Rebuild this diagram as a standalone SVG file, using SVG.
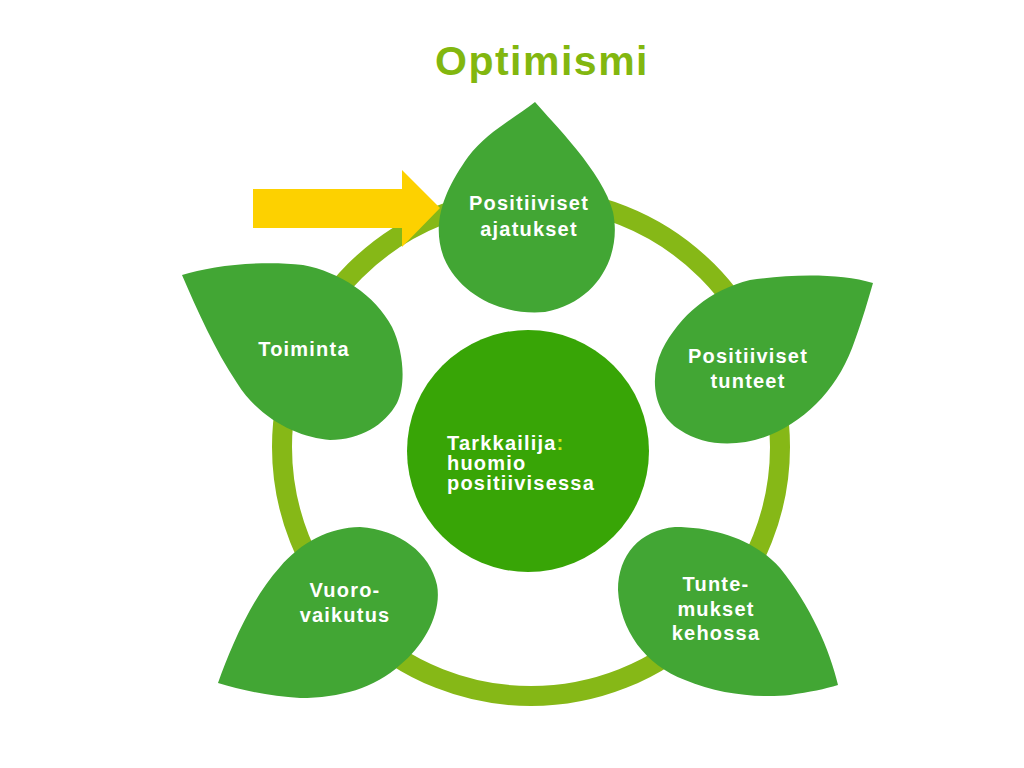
<svg xmlns="http://www.w3.org/2000/svg" width="1024" height="768" viewBox="0 0 1024 768">
<style>
.leaf{fill:#42a634}
.lbl{font-family:"Liberation Sans",Arial,sans-serif;font-weight:bold;font-size:20px;fill:#ffffff;letter-spacing:1.2px;text-anchor:middle}
.ctr{font-family:"Liberation Sans",Arial,sans-serif;font-weight:bold;font-size:20px;fill:#ffffff;letter-spacing:1.2px}
</style>
<rect width="1024" height="768" fill="#ffffff"/>
<text x="542" y="75" font-family="Liberation Sans, Arial, sans-serif" font-weight="bold" font-size="41" fill="#82b70f" text-anchor="middle" letter-spacing="1.5">Optimismi</text>
<g id="connectors">
<circle cx="531" cy="447" r="249" fill="none" stroke="#86b817" stroke-width="20"/>
</g>
<g id="center">
<circle cx="528" cy="451" r="121" fill="#38a506"/>
<text class="ctr" x="447" y="450">Tarkkailija<tspan fill="#d4e619">:</tspan></text>
<text class="ctr" x="447" y="470">huomio</text>
<text class="ctr" x="447" y="490">positiivisessa</text>
</g>
<g id="leaf-ajatukset">
<path class="leaf" d="M535,102 C552,122 603,172 613,212 C622,255 598,302 545,312 C502,316 460,295 444,258 C430,222 446,188 468,157 C487,132 515,118 535,102 Z"/>
<text class="lbl" x="529" y="210">Positiiviset</text>
<text class="lbl" x="529" y="236">ajatukset</text>
</g>
<g id="leaf-toiminta">
<path class="leaf" d="M182,275 C210,266 260,260 303,265 C340,272 375,295 392,327 C404,352 406,385 397,403 C385,425 360,440 330,440 C300,438 260,420 237,383 C215,350 197,310 182,275 Z"/>
<text class="lbl" x="304" y="356">Toiminta</text>
</g>
<g id="leaf-tunteet">
<path class="leaf" d="M873,283 C840,273 790,274 750,280 C710,290 680,315 662,350 C648,380 655,415 680,430 C705,447 740,447 770,435 C810,418 840,385 855,340 C863,318 868,300 873,283 Z"/>
<text class="lbl" x="748" y="363">Positiiviset</text>
<text class="lbl" x="748" y="388">tunteet</text>
</g>
<g id="leaf-vuorovaikutus">
<path class="leaf" d="M218,683 C230,650 250,600 280,567 C300,543 330,527 360,527 C400,530 430,553 437,585 C442,612 425,645 400,665 C375,688 340,698 300,698 C270,696 240,690 218,683 Z"/>
<text class="lbl" x="345" y="597">Vuoro-</text>
<text class="lbl" x="345" y="622">vaikutus</text>
</g>
<g id="leaf-tuntemukset">
<path class="leaf" d="M838,685 C830,650 810,605 780,568 C755,540 715,527 675,527 C640,530 618,555 618,590 C620,630 645,665 685,680 C720,695 760,698 790,695 C810,692 825,689 838,685 Z"/>
<text class="lbl" x="716" y="591">Tunte-</text>
<text class="lbl" x="716" y="616">mukset</text>
<text class="lbl" x="716" y="640">kehossa</text>
</g>
<g id="arrow">
<polygon points="253,189 402,189 402,170 440,208 402,247 402,228 253,228" fill="#fdd100"/>
</g>
</svg>
